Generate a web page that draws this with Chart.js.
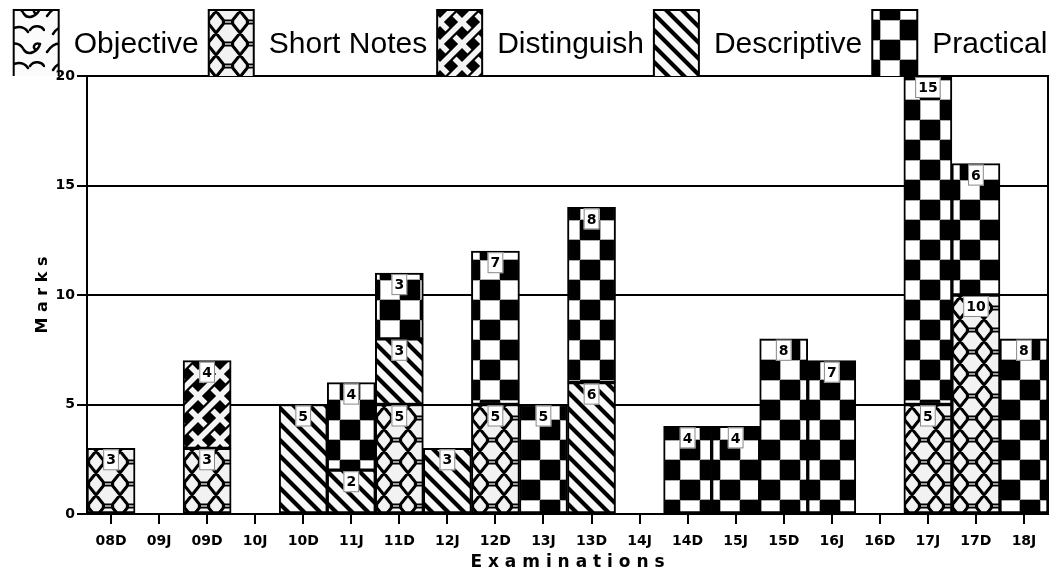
<!DOCTYPE html>
<html>
<head>
<meta charset="utf-8">
<title>Marks by Examination</title>
<script src="https://cdn.jsdelivr.net/npm/chart.js@4.4.0/dist/chart.umd.min.js"></script>
<style>
  body { margin: 0; background: #fff; }
  #wrap { width: 1061px; height: 575px; }
</style>
</head>
<body>
<div id="wrap"><canvas id="marksChart" width="1061" height="575"></canvas></div>
<script>
// Data (stacked marks per examination)
const examinations = ['08D', '09J', '09D', '10J', '10D', '11J', '11D', '12J', '12D', '13J',
                      '13D', '14J', '14D', '15J', '15D', '16J', '16D', '17J', '17D', '18J'];
const objective   = [0, 0, 0, 0, 0, 0, 0, 0, 0, 0, 0, 0, 0, 0, 0, 0, 0, 0, 0, 0];
const shortNotes  = [3, 0, 3, 0, 0, 0, 5, 0, 5, 0, 0, 0, 0, 0, 0, 0, 0, 5, 10, 0];
const distinguish = [0, 0, 4, 0, 0, 0, 0, 0, 0, 0, 0, 0, 0, 0, 0, 0, 0, 0, 0, 0];
const descriptive = [0, 0, 0, 0, 5, 2, 3, 3, 0, 0, 6, 0, 0, 0, 0, 0, 0, 0, 0, 0];
const practical   = [0, 0, 0, 0, 0, 4, 3, 0, 7, 5, 8, 0, 4, 4, 8, 7, 0, 15, 6, 8];
const yTicks = [0, 5, 10, 15, 20];

// Hatch patterns
function makePattern(w, h, draw) {
    const c = document.createElement('canvas');
    c.width = w;
    c.height = h;
    const g = c.getContext('2d');
    draw(g, w, h);
    return g.createPattern(c, 'repeat');
}

const wavePattern = makePattern(45, 36, (g) => {
    g.fillStyle = '#fbfbfb';
    g.fillRect(0, 0, 45, 36);
    g.strokeStyle = '#000';
    g.lineWidth = 2.5;
    g.lineCap = 'round';
    g.beginPath();
    g.moveTo(2, 16);
    g.bezierCurveTo(10, 4, 20, 6, 24, 14);
    g.bezierCurveTo(28, 20, 38, 16, 40, 8);
    g.moveTo(40, 8);
    g.bezierCurveTo(34, 6, 32, 12, 36, 14);
    g.moveTo(8, 34);
    g.bezierCurveTo(14, 24, 24, 26, 28, 32);
    g.moveTo(30, 30);
    g.bezierCurveTo(34, 24, 42, 26, 44, 30);
    g.stroke();
});

const hexPattern = makePattern(24, 22, (g) => {
    g.fillStyle = '#f2f2f2';
    g.fillRect(0, 0, 24, 22);
    g.strokeStyle = '#000';
    g.lineWidth = 3;
    g.lineJoin = 'round';
    g.beginPath();
    g.moveTo(0, 11); g.lineTo(8, 1); g.lineTo(16, 1); g.lineTo(24, 11);
    g.lineTo(16, 21); g.lineTo(8, 21); g.closePath();
    g.moveTo(8, 1); g.lineTo(0, -11);
    g.moveTo(16, 1); g.lineTo(24, -11);
    g.moveTo(8, 21); g.lineTo(0, 33);
    g.moveTo(16, 21); g.lineTo(24, 33);
    g.stroke();
    g.strokeStyle = '#999';
    g.lineWidth = 1;
    g.beginPath();
    g.moveTo(9, 0.5); g.lineTo(15, 0.5);
    g.moveTo(9, 21.5); g.lineTo(15, 21.5);
    g.stroke();
});

const weavePattern = makePattern(22, 22, (g) => {
    g.fillStyle = '#000';
    g.fillRect(0, 0, 22, 22);
    g.lineCap = 'butt';
    g.strokeStyle = '#f4f4f4';
    g.lineWidth = 5.5;
    g.beginPath();
    g.moveTo(-3, -3); g.lineTo(25, 25);
    g.stroke();
    g.strokeStyle = '#000';
    g.lineWidth = 10;
    g.beginPath();
    g.moveTo(5, 17); g.lineTo(17, 5);
    g.stroke();
    g.strokeStyle = '#f4f4f4';
    g.lineWidth = 5.5;
    g.beginPath();
    g.moveTo(-3, 25); g.lineTo(25, -3);
    g.stroke();
});

const stripePattern = makePattern(16, 16, (g) => {
    g.fillStyle = '#f8f8f8';
    g.fillRect(0, 0, 16, 16);
    g.strokeStyle = '#000';
    g.lineWidth = 4.2;
    g.beginPath();
    g.moveTo(-2, -2); g.lineTo(18, 18);
    g.moveTo(-6, 10); g.lineTo(6, 22);
    g.moveTo(10, -6); g.lineTo(22, 6);
    g.stroke();
});

const checkPattern = makePattern(40, 40, (g) => {
    g.fillStyle = '#fff';
    g.fillRect(0, 0, 40, 40);
    g.fillStyle = '#000';
    g.fillRect(0, 0, 20, 20);
    g.fillRect(20, 20, 20, 20);
    g.strokeStyle = '#aaa';
    g.lineWidth = 1;
    g.strokeRect(20.5, 0.5, 19, 19);
    g.strokeRect(0.5, 20.5, 19, 19);
});

const noZero = arr => arr.map(v => (v === 0 ? null : v));

function barSet(label, values, pattern) {
    return {
        label: label,
        data: noZero(values),
        backgroundColor: pattern,
        borderColor: '#000',
        borderWidth: 2,
        borderSkipped: false,
        barPercentage: 1,
        categoryPercentage: 1,
        stack: 'marks'
    };
}

// Value boxes at the top of every segment
const valueBoxes = {
    id: 'valueBoxes',
    afterDatasetsDraw(chart) {
        const ctx = chart.ctx;
        ctx.save();
        ctx.font = 'bold 14px "DejaVu Sans"';
        ctx.textAlign = 'center';
        ctx.textBaseline = 'middle';
        chart.data.datasets.forEach((ds, i) => {
            const meta = chart.getDatasetMeta(i);
            meta.data.forEach((bar, j) => {
                const v = ds.data[j];
                if (!v) return;
                const text = String(v);
                const w = ctx.measureText(text).width + 6;
                const h = 21;
                const x = bar.x - w / 2;
                const y = bar.y + 1;
                ctx.fillStyle = '#fff';
                ctx.fillRect(x, y, w, h);
                ctx.strokeStyle = '#888';
                ctx.lineWidth = 1;
                ctx.strokeRect(x + 0.5, y + 0.5, w - 1, h - 1);
                ctx.fillStyle = '#000';
                ctx.fillText(text, bar.x, y + h / 2 + 1);
            });
        });
        ctx.restore();
    }
};

const tickFont = { family: '"DejaVu Sans"', size: 14, weight: 'bold' };

new Chart(document.getElementById('marksChart').getContext('2d'), {
    type: 'bar',
    data: {
        labels: examinations,
        datasets: [
            barSet('Objective', objective, wavePattern),
            barSet('Short Notes', shortNotes, hexPattern),
            barSet('Distinguish', distinguish, weavePattern),
            barSet('Descriptive', descriptive, stripePattern),
            barSet('Practical', practical, checkPattern)
        ]
    },
    options: {
        responsive: false,
        animation: false,
        layout: { padding: 0 },
        plugins: {
            tooltip: { enabled: false },
            legend: {
                position: 'top',
                maxHeight: 76,
                labels: {
                    boxWidth: 45,
                    boxHeight: 70,
                    padding: 10,
                    color: '#000',
                    font: { family: '"Liberation Sans", Arial, sans-serif', size: 30 }
                }
            }
        },
        scales: {
            x: {
                stacked: true,
                grid: {
                    offset: false,
                    drawOnChartArea: false,
                    drawTicks: true,
                    tickLength: 10,
                    color: '#000',
                    lineWidth: 2
                },
                border: { color: '#000', width: 2 },
                ticks: {
                    color: '#000',
                    padding: 9,
                    maxRotation: 0,
                    autoSkip: false,
                    font: tickFont
                },
                title: {
                    display: true,
                    text: 'E x a m i n a t i o n s',
                    color: '#000',
                    padding: { top: 0, bottom: 2 },
                    font: { family: '"DejaVu Sans"', size: 17, weight: 'bold' }
                },
                afterFit: s => { s.height = 61; }
            },
            y: {
                stacked: true,
                min: 0,
                max: 20,
                afterBuildTicks: s => { s.ticks = yTicks.map(v => ({ value: v })); },
                grid: {
                    color: '#000',
                    lineWidth: 2,
                    tickLength: 10
                },
                border: { color: '#000', width: 2 },
                ticks: {
                    color: '#000',
                    padding: 2,
                    font: tickFont
                },
                title: {
                    display: true,
                    text: 'M a r k s',
                    color: '#000',
                    padding: { top: 33, bottom: 0 },
                    font: { family: '"DejaVu Sans"', size: 16, weight: 'bold' }
                },
                afterFit: s => { s.width = 87; }
            },
            frame: {
                type: 'linear',
                position: 'right',
                min: 0,
                max: 20,
                grid: { drawOnChartArea: false, drawTicks: false },
                border: { color: '#000', width: 2 },
                ticks: { display: false },
                afterFit: s => { s.width = 13; }
            }
        }
    },
    plugins: [valueBoxes]
});
</script>
</body>
</html>
